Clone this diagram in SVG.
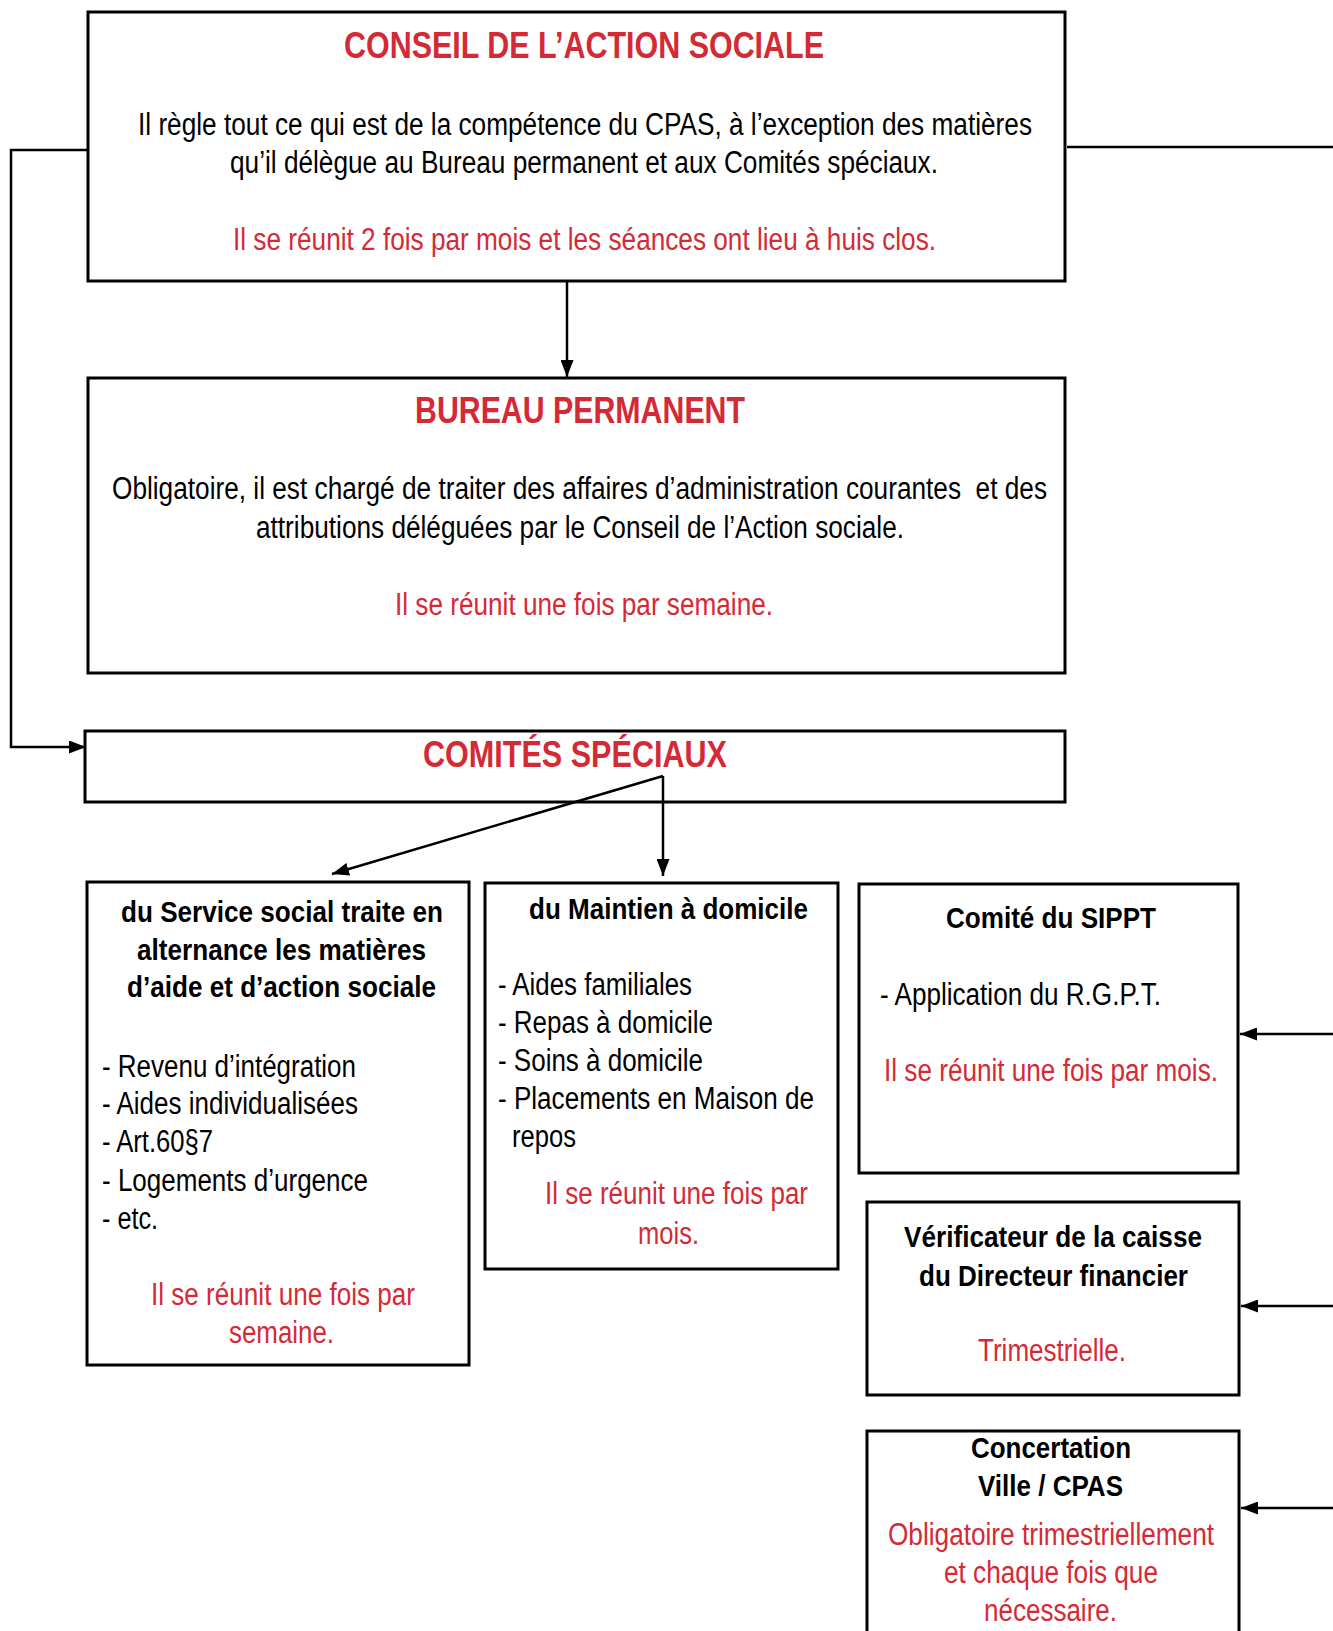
<svg xmlns="http://www.w3.org/2000/svg" width="1333" height="1631" viewBox="0 0 1333 1631">
<style>
text{font-family:"Liberation Sans Narrow","Arial Narrow","Liberation Sans",Arial,sans-serif;font-size:31px;fill:#000}
.t{font-size:36px;font-weight:bold;fill:#d42a35}
.b{font-weight:bold;font-size:30px}
.r{fill:#d42a35}
.box{fill:#fff;stroke:#000;stroke-width:3}
.c{fill:none;stroke:#000;stroke-width:2.5}
</style>
<defs>
<marker id="ah" markerUnits="userSpaceOnUse" markerWidth="17" markerHeight="13" refX="17" refY="6.5" orient="auto">
<path d="M0,0 L17,6.5 L0,13 z" fill="#000"/>
</marker>
</defs>
<rect width="1333" height="1631" fill="#fff"/>
<g id="conseil">
<rect class="box" x="88" y="12" width="977" height="269"/>
<text class="t" x="344" y="58" textLength="480" lengthAdjust="spacingAndGlyphs">CONSEIL DE L’ACTION SOCIALE</text>
<text x="138" y="135" textLength="894" lengthAdjust="spacingAndGlyphs">Il règle tout ce qui est de la compétence du CPAS, à l’exception des matières</text>
<text x="230" y="173" textLength="708" lengthAdjust="spacingAndGlyphs">qu’il délègue au Bureau permanent et aux Comités spéciaux.</text>
<text class="r" x="233" y="250" textLength="703" lengthAdjust="spacingAndGlyphs">Il se réunit 2 fois par mois et les séances ont lieu à huis clos.</text>
</g>
<g id="bureau">
<rect class="box" x="88" y="378" width="977" height="295"/>
<text class="t" x="415" y="423" textLength="330" lengthAdjust="spacingAndGlyphs">BUREAU PERMANENT</text>
<text x="112" y="499" textLength="935" lengthAdjust="spacingAndGlyphs" style="white-space:pre">Obligatoire, il est chargé de traiter des affaires d’administration courantes  et des</text>
<text x="256" y="538" textLength="648" lengthAdjust="spacingAndGlyphs">attributions déléguées par le Conseil de l’Action sociale.</text>
<text class="r" x="395" y="615" textLength="378" lengthAdjust="spacingAndGlyphs">Il se réunit une fois par semaine.</text>
</g>
<g id="comites">
<rect class="box" x="85" y="731" width="980" height="71"/>
<text class="t" x="423" y="767" textLength="304" lengthAdjust="spacingAndGlyphs">COMITÉS SPÉCIAUX</text>
</g>
<g id="service-social">
<rect class="box" x="87" y="882" width="382" height="483"/>
<text class="b" x="121" y="922" textLength="322" lengthAdjust="spacingAndGlyphs">du Service social traite en</text>
<text class="b" x="137" y="960" textLength="289" lengthAdjust="spacingAndGlyphs">alternance les matières</text>
<text class="b" x="127" y="997" textLength="309" lengthAdjust="spacingAndGlyphs">d’aide et d’action sociale</text>
<text x="102" y="1077" textLength="254" lengthAdjust="spacingAndGlyphs">- Revenu d’intégration</text>
<text x="102" y="1114" textLength="256" lengthAdjust="spacingAndGlyphs">- Aides individualisées</text>
<text x="102" y="1152" textLength="111" lengthAdjust="spacingAndGlyphs">- Art.60§7</text>
<text x="102" y="1191" textLength="266" lengthAdjust="spacingAndGlyphs">- Logements d’urgence</text>
<text x="102" y="1229" textLength="56" lengthAdjust="spacingAndGlyphs">- etc.</text>
<text class="r" x="151" y="1305" textLength="264" lengthAdjust="spacingAndGlyphs">Il se réunit une fois par</text>
<text class="r" x="229" y="1343" textLength="105" lengthAdjust="spacingAndGlyphs">semaine.</text>
</g>
<g id="maintien">
<rect class="box" x="485" y="883" width="353" height="386"/>
<text class="b" x="529" y="919" textLength="279" lengthAdjust="spacingAndGlyphs">du Maintien à domicile</text>
<text x="498" y="995" textLength="194" lengthAdjust="spacingAndGlyphs">- Aides familiales</text>
<text x="498" y="1033" textLength="215" lengthAdjust="spacingAndGlyphs">- Repas à domicile</text>
<text x="498" y="1071" textLength="205" lengthAdjust="spacingAndGlyphs">- Soins à domicile</text>
<text x="498" y="1109" textLength="316" lengthAdjust="spacingAndGlyphs">- Placements en Maison de</text>
<text x="512" y="1147" textLength="64" lengthAdjust="spacingAndGlyphs">repos</text>
<text class="r" x="545" y="1204" textLength="263" lengthAdjust="spacingAndGlyphs">Il se réunit une fois par</text>
<text class="r" x="638" y="1244" textLength="61" lengthAdjust="spacingAndGlyphs">mois.</text>
</g>
<g id="sippt">
<rect class="box" x="859" y="884" width="379" height="289"/>
<text class="b" x="946" y="928" textLength="210" lengthAdjust="spacingAndGlyphs">Comité du SIPPT</text>
<text x="880" y="1005" textLength="281" lengthAdjust="spacingAndGlyphs">- Application du R.G.P.T.</text>
<text class="r" x="884" y="1081" textLength="334" lengthAdjust="spacingAndGlyphs">Il se réunit une fois par mois.</text>
</g>
<g id="verificateur">
<rect class="box" x="867" y="1202" width="372" height="193"/>
<text class="b" x="904" y="1247" textLength="298" lengthAdjust="spacingAndGlyphs">Vérificateur de la caisse</text>
<text class="b" x="919" y="1286" textLength="269" lengthAdjust="spacingAndGlyphs">du Directeur financier</text>
<text class="r" x="978" y="1361" textLength="148" lengthAdjust="spacingAndGlyphs">Trimestrielle.</text>
</g>
<g id="concertation">
<rect class="box" x="867" y="1431" width="372" height="220"/>
<text class="b" x="971" y="1458" textLength="160" lengthAdjust="spacingAndGlyphs">Concertation</text>
<text class="b" x="978" y="1496" textLength="145" lengthAdjust="spacingAndGlyphs">Ville / CPAS</text>
<text class="r" x="888" y="1545" textLength="326" lengthAdjust="spacingAndGlyphs">Obligatoire trimestriellement</text>
<text class="r" x="944" y="1583" textLength="214" lengthAdjust="spacingAndGlyphs">et chaque fois que</text>
<text class="r" x="984" y="1621" textLength="133" lengthAdjust="spacingAndGlyphs">nécessaire.</text>
</g>
<g id="connectors">
<path class="c" d="M87,150 H11 V747 H86" marker-end="url(#ah)"/>
<path class="c" d="M567,282 V377" marker-end="url(#ah)"/>
<path class="c" d="M1067,147 H1333"/>
<path class="c" d="M663,776 L332,874" marker-end="url(#ah)"/>
<path class="c" d="M663,776 V876" marker-end="url(#ah)"/>
<path class="c" d="M1333,1034 H1240" marker-end="url(#ah)"/>
<path class="c" d="M1333,1306 H1241" marker-end="url(#ah)"/>
<path class="c" d="M1333,1508 H1241" marker-end="url(#ah)"/>
</g>
</svg>
